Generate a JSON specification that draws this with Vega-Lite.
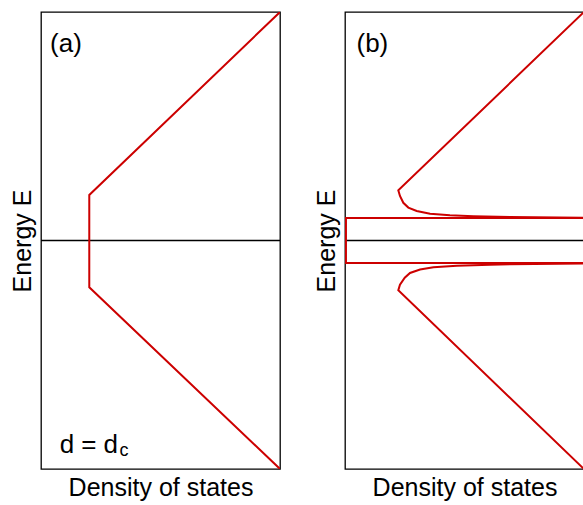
{
  "$schema": "https://vega.github.io/schema/vega-lite/v6.json",
  "padding": {"left": 9, "top": 11, "right": 0, "bottom": 5},
  "spacing": 32,
  "config": {
    "view": {"stroke": "black", "strokeWidth": 1.3},
    "font": "Liberation Sans",
    "axis": {
      "domain": false, "ticks": false, "labels": false, "grid": false,
      "titleFont": "Liberation Sans", "titleFontSize": 25, "titleFontWeight": "normal",
      "titleColor": "black", "titlePadding": 6
    }
  },
  "datasets": {
    "zeroline": [{"x": 0, "E": 0}, {"x": 1, "E": 0}],
    "dosA": [
      {"i": 1, "seg": "a", "x": 1.0, "E": 1.0},
      {"i": 2, "seg": "a", "x": 0.202, "E": 0.199},
      {"i": 3, "seg": "a", "x": 0.202, "E": -0.205},
      {"i": 4, "seg": "a", "x": 1.0, "E": -1.0}
    ],
    "dosB": [
      {"i": 1, "seg": "up", "x": 1.0, "E": 1.0},
      {"i": 2, "seg": "up", "x": 0.223, "E": 0.220},
      {"i": 3, "seg": "up", "x": 0.230, "E": 0.195},
      {"i": 4, "seg": "up", "x": 0.244, "E": 0.165},
      {"i": 5, "seg": "up", "x": 0.265, "E": 0.144},
      {"i": 6, "seg": "up", "x": 0.300, "E": 0.129},
      {"i": 7, "seg": "up", "x": 0.356, "E": 0.117},
      {"i": 8, "seg": "up", "x": 0.439, "E": 0.110},
      {"i": 9, "seg": "up", "x": 0.537, "E": 0.106},
      {"i": 10, "seg": "up", "x": 0.690, "E": 0.103},
      {"i": 11, "seg": "up", "x": 1.0, "E": 0.100},
      {"i": 1, "seg": "lo", "x": 1.0, "E": -1.0},
      {"i": 2, "seg": "lo", "x": 0.223, "E": -0.218},
      {"i": 3, "seg": "lo", "x": 0.230, "E": -0.193},
      {"i": 4, "seg": "lo", "x": 0.250, "E": -0.163},
      {"i": 5, "seg": "lo", "x": 0.272, "E": -0.142},
      {"i": 6, "seg": "lo", "x": 0.314, "E": -0.127},
      {"i": 7, "seg": "lo", "x": 0.370, "E": -0.117},
      {"i": 8, "seg": "lo", "x": 0.468, "E": -0.110},
      {"i": 9, "seg": "lo", "x": 0.607, "E": -0.106},
      {"i": 10, "seg": "lo", "x": 0.690, "E": -0.104},
      {"i": 11, "seg": "lo", "x": 1.0, "E": -0.101},
      {"i": 1, "seg": "box", "x": 1.0, "E": 0.098},
      {"i": 2, "seg": "box", "x": 0.004, "E": 0.098},
      {"i": 3, "seg": "box", "x": 0.004, "E": -0.098},
      {"i": 4, "seg": "box", "x": 1.0, "E": -0.098}
    ],
    "labelsA": [
      {"x": 0.038, "E": 0.862, "label": "(a)"}
    ],
    "mathA": [
      {"x": 0.078, "E": -0.93, "label": "d ="},
      {"x": 0.262, "E": -0.93, "label": "d"}
    ],
    "subA": [
      {"x": 0.328, "E": -0.945, "label": "c"}
    ],
    "labelsB": [
      {"x": 0.048, "E": 0.862, "label": "(b)"}
    ]
  },
  "hconcat": [
    {
      "width": 239,
      "height": 457,
      "encoding": {
        "x": {"field": "x", "type": "quantitative", "scale": {"domain": [0, 1], "nice": false, "zero": false}, "axis": {"title": "Density of states"}},
        "y": {"field": "E", "type": "quantitative", "scale": {"domain": [-1, 1], "nice": false, "zero": false}, "axis": {"title": "Energy E"}}
      },
      "layer": [
        {"data": {"name": "zeroline"}, "mark": {"type": "line", "color": "black", "strokeWidth": 1.3, "clip": true}},
        {"data": {"name": "dosA"}, "mark": {"type": "line", "color": "#cc0000", "strokeWidth": 2, "clip": true},
         "encoding": {"detail": {"field": "seg"}, "order": {"field": "i"}}},
        {"data": {"name": "labelsA"}, "mark": {"type": "text", "align": "left", "baseline": "middle", "fontSize": 26, "color": "black"},
         "encoding": {"text": {"field": "label"}}},
        {"data": {"name": "mathA"}, "mark": {"type": "text", "align": "left", "baseline": "alphabetic", "fontSize": 26, "color": "black"},
         "encoding": {"text": {"field": "label"}}},
        {"data": {"name": "subA"}, "mark": {"type": "text", "align": "left", "baseline": "alphabetic", "fontSize": 18, "color": "black"},
         "encoding": {"text": {"field": "label"}}}
      ]
    },
    {
      "width": 239,
      "height": 457,
      "encoding": {
        "x": {"field": "x", "type": "quantitative", "scale": {"domain": [0, 1], "nice": false, "zero": false}, "axis": {"title": "Density of states"}},
        "y": {"field": "E", "type": "quantitative", "scale": {"domain": [-1, 1], "nice": false, "zero": false}, "axis": {"title": "Energy E"}}
      },
      "layer": [
        {"data": {"name": "zeroline"}, "mark": {"type": "line", "color": "black", "strokeWidth": 1.3, "clip": true}},
        {"data": {"name": "dosB"}, "mark": {"type": "line", "color": "#cc0000", "strokeWidth": 2, "clip": true},
         "encoding": {"detail": {"field": "seg"}, "order": {"field": "i"}}},
        {"data": {"name": "labelsB"}, "mark": {"type": "text", "align": "left", "baseline": "middle", "fontSize": 26, "color": "black"},
         "encoding": {"text": {"field": "label"}}}
      ]
    }
  ]
}
